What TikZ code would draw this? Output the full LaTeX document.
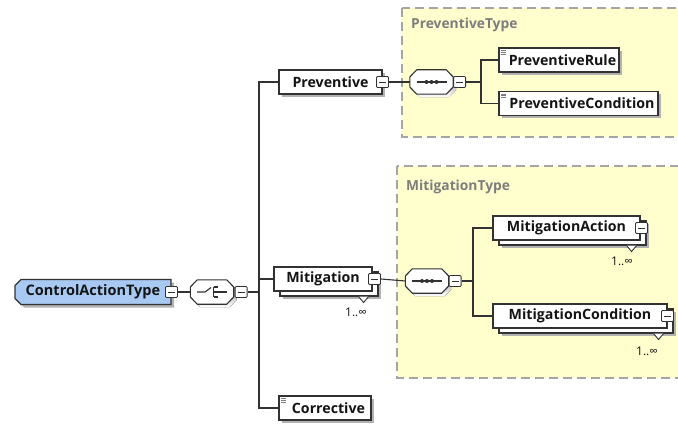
\documentclass[tikz,border=0pt]{standalone}
\usepackage{fontspec}
\setmainfont{Open Sans}
\usetikzlibrary{shapes.misc}

\definecolor{paleyellow}{RGB}{255,255,206}
\definecolor{framegray}{RGB}{165,165,165}
\definecolor{boxline}{RGB}{50,50,50}
\definecolor{shade}{RGB}{178,178,178}
\definecolor{ctblue}{RGB}{168,202,242}
\definecolor{typegray}{RGB}{125,125,125}
\definecolor{inktext}{RGB}{20,20,20}

% outline of a compositor (octagon) built on the anchors of a named node
\newcommand\octpath[1]{([xshift=7pt]#1.north west) -- ([xshift=-7pt]#1.north east)
  -- ([yshift=5pt]#1.east) -- ([yshift=-5pt]#1.east) -- ([xshift=-7pt]#1.south east)
  -- ([xshift=7pt]#1.south west) -- ([yshift=-5pt]#1.west) -- ([yshift=5pt]#1.west) -- cycle}
% room for the simple-type icon in the top left corner
\newcommand\iconroom{\hspace*{7pt}}

\begin{document}
\begin{tikzpicture}[x=1pt,y=-1pt,
  every node/.style={inner sep=0pt},
  conn/.style={draw=boxline, line width=1.1pt},
  frame/.style={draw=framegray, fill=paleyellow, line width=1.3pt, dash pattern=on 9pt off 5pt},
  typelabel/.style={text=typegray, font=\bfseries\fontsize{13.8}{15}\selectfont, anchor=west},
  boxbase/.style={draw=boxline, fill=white, line width=1.1pt, text=inktext,
    font=\bfseries\fontsize{14.2}{16}\selectfont, minimum height=24pt},
  elem/.style={boxbase, preaction={fill=shade, draw=none, transform canvas={shift={(3pt,-3pt)}}}},
  melem/.style={boxbase,
    preaction={fill=shade, draw=none, transform canvas={shift={(9pt,-8pt)}}},
    preaction={draw=boxline, fill=white, line width=1.1pt, transform canvas={shift={(6pt,-5pt)}}}},
  catbox/.style={chamfered rectangle, chamfered rectangle corners={north west,south west},
    chamfered rectangle xsep=3pt, chamfered rectangle ysep=3pt,
    draw=boxline, fill=ctblue, line width=1.1pt, text=inktext,
    font=\bfseries\fontsize{14.5}{16}\selectfont, minimum width=156pt, minimum height=25pt,
    preaction={fill=shade, draw=none, transform canvas={shift={(3pt,-3pt)}}}},
  simple/.style={path picture={\foreach \k in {2.5,4.2,5.9}{\draw[typegray, line width=0.7pt]
    ([shift={(1.8pt,-\k pt)}]path picture bounding box.north west) -- ++(5pt,0pt);}}},
  comp/.style={rectangle, minimum width=43pt, minimum height=24pt},
  minus/.style={draw=boxline, fill=white, line width=0.8pt, minimum width=12pt, minimum height=11pt,
    rounded corners=1pt, path picture={\draw[boxline, line width=0.8pt]
    ([xshift=2.5pt]path picture bounding box.west) -- ([xshift=-2.5pt]path picture bounding box.east);}},
  mult/.style={text=inktext, font=\fontsize{12}{13}\selectfont},
  notch/.style={draw=boxline, fill=white, line width=0.9pt}
]
\useasboundingbox (0,0) rectangle (678,425);

% type frames
\draw[frame] (402,8) rectangle (690,137);
\node[typelabel] (ptype) at (411,25) {PreventiveType};
\draw[frame] (397,166) rectangle (690,378);
\node[typelabel] (mtype) at (406,187) {MitigationType};

% compositor anchors
\node[comp] (ch) at (212,292) {};
\node[comp] (sq1) at (431.5,82) {};
\node[comp] (sq2) at (427,281) {};
\coordinate (bus) at (259,250);
\coordinate (pbus) at (481,80);
\coordinate (mbus) at (473,270);

% compositor outlines with shadows
\foreach \c in {ch,sq1,sq2}{
  \fill[shade, transform canvas={shift={(3pt,-3pt)}}] \octpath{\c};
  \draw[boxline, fill=white, line width=1.1pt] \octpath{\c};
}

% choice icon
\draw[boxline, line width=1.1pt] ([xshift=-15pt]ch.center) -- ([xshift=-7pt]ch.center) -- ([shift={(-1pt,4.5pt)}]ch.center);
\draw[boxline, line width=1.1pt] ([shift={(1.5pt,5pt)}]ch.center) -- ([shift={(1.5pt,-5pt)}]ch.center);
\foreach \d in {-5,0,5}
  \draw[boxline, line width=1.3pt] ([shift={(1.5pt,\d pt)}]ch.center) -- ++(4pt,0pt);
\draw[boxline, line width=1.1pt] ([xshift=5.5pt]ch.center) -- ([xshift=15pt]ch.center);

% sequence icons
\foreach \c in {sq1,sq2}{
  \draw[boxline, line width=1.1pt] ([xshift=-15pt]\c.center) -- ([xshift=15pt]\c.center);
  \foreach \d in {-5,0,5} \fill[boxline] ([xshift=\d pt]\c.center) circle (2pt);
}

% elements
\node[catbox] (cat) at (93,292) {ControlActionType};
\node[elem, minimum width=103pt] (prev) at (330.5,82) {Preventive};
\node[melem, minimum width=98pt] (mit) at (323,279) {Mitigation};
\node[elem, simple, minimum width=92pt] (corr) at (325,408) {\iconroom Corrective};
\node[elem, simple, minimum width=120pt] (prule) at (559,60) {\iconroom PreventiveRule};
\node[elem, simple, minimum width=159pt] (pcond) at (578.5,103.5) {\iconroom PreventiveCondition};
\node[melem, minimum width=147pt] (mact) at (566.5,228) {MitigationAction};
\node[melem, minimum width=174pt] (mcond) at (580,316) {MitigationCondition};

% occurrence notches below repeated elements
\foreach \e in {mit,mact,mcond}
  \draw[notch] ([shift={(-14,5)}]\e.south east) -- ++(5,6) -- ++(5,-6);

% collapse boxes
\node[minus] (catm) at (cat.east) {};
\node[minus, anchor=west] (chm) at ([xshift=1pt]ch.east) {};
\node[minus] (prevm) at (prev.east) {};
\node[minus] (mitm) at ([xshift=2pt]mit.east) {};
\node[minus, anchor=west] (sq1m) at (sq1.east) {};
\node[minus, anchor=west] (sq2m) at (sq2.east) {};
\node[minus] (mactm) at ([xshift=1pt]mact.east) {};
\node[minus] (mcondm) at (mcond.east) {};

% occurrence ranges
\node[mult] (mitn) at (356,312) {1..∞};
\node[mult] (mactn) at (622,261) {1..∞};
\node[mult] (mcondn) at (647,351) {1..∞};

% connectors
\draw[conn] (catm.east) -- (ch.west);
\draw[conn] (chm.east) -- (chm.east -| bus);
\draw[conn] (prev.west) -| (bus) |- (corr.west);
\draw[conn] (mit.west) -- (mit.west -| bus);
\draw[conn] (prevm.east) -- (sq1.west);
\draw[conn] (sq1m.east) -- (sq1m.east -| pbus);
\draw[conn] (prule.west) -| (pbus) |- (pcond.west);
\draw[conn] (mitm.east) -- (sq2.west);
\draw[conn] (sq2m.east) -- (sq2m.east -| mbus);
\draw[conn] (mact.west) -| (mbus) |- (mcond.west);
\end{tikzpicture}
\end{document}
